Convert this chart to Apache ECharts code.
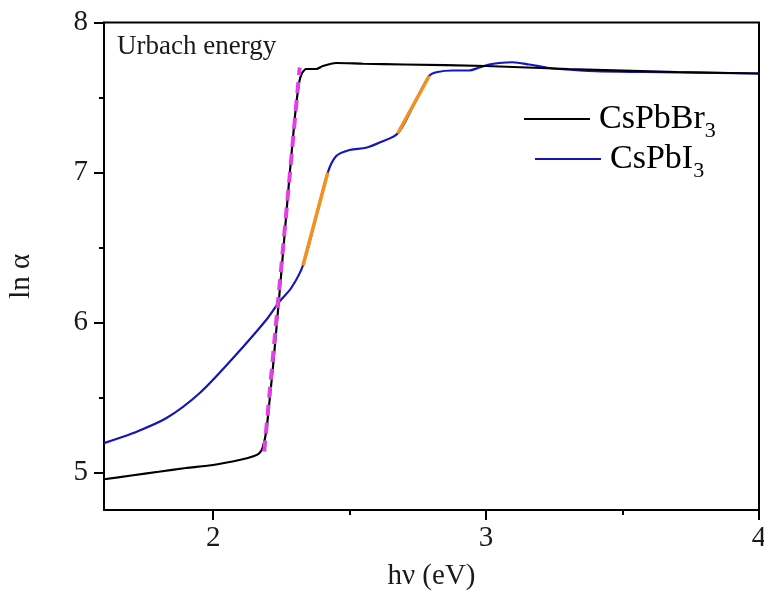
<!DOCTYPE html>
<html>
<head>
<meta charset="utf-8">
<script src="https://cdn.jsdelivr.net/npm/echarts@6/dist/echarts.min.js"></script>
<style>html,body{margin:0;padding:0;background:#fff}#c{width:764px;height:595px}</style>
</head>
<body>
<div id="c"></div>
<script>
// CsPbBr3 (black)
const brX = [1.60,1.70,1.80,1.90,2.00,2.10,2.15,2.17,2.182,2.195,2.205,2.220,2.240,2.260,2.280,2.300,2.315,2.325,2.340,2.378,2.402,2.45,2.55,2.70,3.00,3.30,3.70,4.00];
const brY = [4.955,4.98,5.005,5.03,5.05,5.085,5.11,5.13,5.17,5.28,5.45,5.72,6.13,6.55,6.98,7.38,7.60,7.66,7.69,7.69,7.71,7.73,7.725,7.72,7.71,7.69,7.67,7.66];
// CsPbI3 (blue)
const iX = [1.60,1.707,1.829,1.951,2.073,2.195,2.243,2.286,2.329,2.375,2.42,2.451,2.50,2.56,2.61,2.676,2.735,2.792,2.822,2.877,2.938,2.975,3.011,3.048,3.097,3.158,3.219,3.267,3.40,3.58,4.00];
const iY = [5.196,5.263,5.363,5.53,5.763,6.018,6.14,6.23,6.38,6.69,7.00,7.11,7.15,7.165,7.20,7.26,7.45,7.645,7.67,7.68,7.68,7.70,7.72,7.73,7.735,7.72,7.70,7.69,7.675,7.67,7.66];
// Fit segments
const orange1X = [2.329,2.42], orange1Y = [6.38,7.00];
const orange2X = [2.676,2.792], orange2Y = [7.26,7.645];
const magX = [2.187,2.317], magY = [5.14,7.70];
// Ticks
const xMajor = [2,3,4], xMinor = [2.5,3.5];
const yMajor = [5,6,7,8], yMinor = [5.5,6.5,7.5];

const zip = (a,b)=>a.map((v,i)=>[v,b[i]]);
const F = 'Liberation Serif';
const chart = echarts.init(document.getElementById('c'));
const baseX = {type:'value', min:1.6, max:4, gridIndex:0, position:'bottom', splitLine:{show:false}};
const baseY = {type:'value', min:4.75, max:8, gridIndex:0, position:'left', splitLine:{show:false}};
const legendCommon = {orient:'vertical', padding:0, itemWidth:66, itemHeight:2, icon:'rect'};
const rich = {a:{fontFamily:F,fontSize:34,color:'#000'}, s:{fontFamily:F,fontSize:22,color:'#000',padding:[24,0,0,0]}};
chart.setOption({
  animation:false,
  backgroundColor:'#fff',
  title:{text:'Urbach energy', left:117, top:33, padding:0,
    textStyle:{fontFamily:F, fontSize:27, fontWeight:'normal', color:'#1a1a1a'}},
  grid:{left:104, right:5, top:22.5, bottom:85, show:true, borderColor:'#000', borderWidth:2,
    backgroundColor:'transparent', containLabel:false, outerBoundsMode:'none'},
  legend:[
    Object.assign({}, legendCommon, {data:['CsPbBr3'], left:524, top:102,
     formatter:()=>'{a|CsPbBr}{s|3}', textStyle:{padding:[0,0,0,4], rich:rich}}),
    Object.assign({}, legendCommon, {data:['CsPbI3'], left:535, top:142,
     formatter:()=>'{a|CsPbI}{s|3}', textStyle:{padding:[0,0,0,4], rich:rich}})
  ],
  xAxis:[
    Object.assign({}, baseX, {
      name:'hν (eV)', nameLocation:'middle', nameGap:52,
      nameTextStyle:{fontFamily:F, fontSize:29, color:'#1a1a1a'},
      axisLine:{lineStyle:{color:'#000', width:2}},
      axisTick:{show:true, inside:false, length:10, lineStyle:{color:'#000', width:2}, customValues:xMajor},
      axisLabel:{fontFamily:F, fontSize:29, color:'#1a1a1a', margin:14, customValues:xMajor, formatter:v=>String(v)}
    }),
    Object.assign({}, baseX, {
      axisLine:{show:false},
      axisTick:{show:true, inside:false, length:5, lineStyle:{color:'#000', width:2}, customValues:xMinor},
      axisLabel:{show:false}
    })
  ],
  yAxis:[
    Object.assign({}, baseY, {
      name:'ln α', nameLocation:'middle', nameGap:68,
      nameTextStyle:{fontFamily:F, fontSize:29, color:'#1a1a1a', padding:[0,0,0,-20]},
      axisLine:{lineStyle:{color:'#000', width:2}},
      axisTick:{show:true, inside:false, length:10, lineStyle:{color:'#000', width:2}, customValues:yMajor},
      axisLabel:{fontFamily:F, fontSize:29, color:'#1a1a1a', margin:16, customValues:yMajor, formatter:v=>String(v)}
    }),
    Object.assign({}, baseY, {
      axisLine:{show:false},
      axisTick:{show:true, inside:false, length:5, lineStyle:{color:'#000', width:2}, customValues:yMinor},
      axisLabel:{show:false}
    })
  ],
  series:[
    {name:'CsPbBr3', type:'line', data:zip(brX,brY), showSymbol:false, symbol:'none', smooth:0.2, z:3,
     lineStyle:{color:'#000', width:2.2}, itemStyle:{color:'#000'}},
    {name:'CsPbI3', type:'line', data:zip(iX,iY), showSymbol:false, symbol:'none', smooth:0.3, z:2,
     lineStyle:{color:'#1616b8', width:2.2}, itemStyle:{color:'#1616b8'}},
    {name:'fit1', type:'line', data:zip(orange1X,orange1Y), symbol:'none', z:4,
     lineStyle:{color:'#f3901e', width:3.5}},
    {name:'fit2', type:'line', data:zip(orange2X,orange2Y), symbol:'none', z:4,
     lineStyle:{color:'#f3901e', width:3.5}},
    {name:'fitBr', type:'line', data:zip(magX,magY), symbol:'none', z:5,
     lineStyle:{color:'#e23fe6', width:4, type:[11,7]}}
  ]
});
</script>
</body>
</html>
